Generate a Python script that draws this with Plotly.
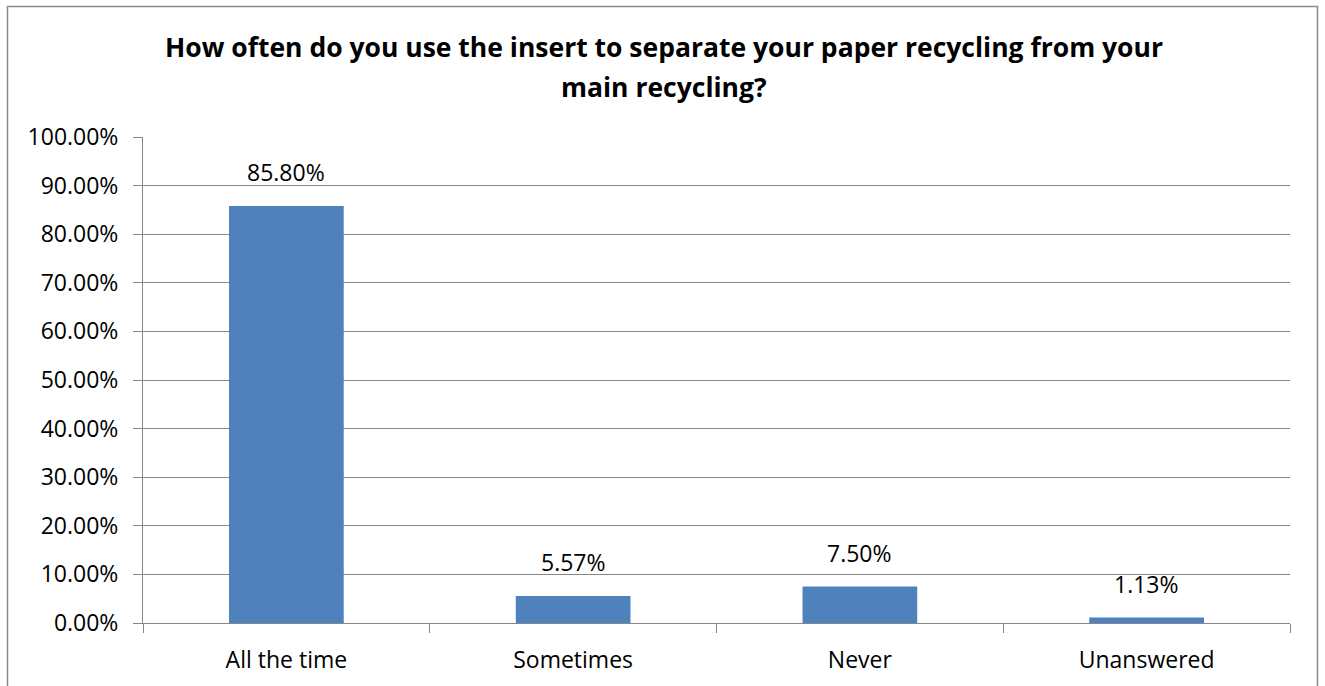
import plotly.graph_objects as go

categories = ["All the time", "Sometimes", "Never", "Unanswered"]
shares = [85.80, 5.57, 7.50, 1.13]
value_labels = ["85.80%", "5.57%", "7.50%", "1.13%"]
y_ticks = [0, 10, 20, 30, 40, 50, 60, 70, 80, 90, 100]
y_tick_text = [f"{v:.2f}%" for v in y_ticks]

title_lines = [
    "How often do you use the insert to separate your paper recycling from your",
    "main recycling?",
]

FONT = "Open Sans"
GRID = "#868686"
LABEL_SIZE = 23

W, H = 1325, 686
L, R, T, B = 143, 35, 137, 63
pw, ph = W - L - R, H - T - B


def px_x(px):
    return (px - L) / pw


def px_y(py):
    return (H - B - py) / ph


fig = go.Figure(
    go.Bar(
        x=categories,
        y=shares,
        width=0.4,
        marker=dict(color="#4F81BD", line=dict(width=0)),
        hoverinfo="skip",
    )
)

# value labels above each bar
for cat, val, lab in zip(categories, shares, value_labels):
    fig.add_annotation(
        x=cat, y=val, text=lab, showarrow=False,
        yanchor="bottom", yshift=16,
        font=dict(family=FONT, size=LABEL_SIZE, color="#000000"),
    )

# two-line bold chart title
for line, cy in zip(title_lines, [47, 87]):
    fig.add_annotation(
        xref="paper", yref="paper", x=px_x(664), y=px_y(cy),
        xanchor="center", yanchor="middle", showarrow=False,
        text=f"<b>{line}</b>",
        font=dict(family=FONT, size=26.5, color="#000000"),
    )

# outer chart border
fig.add_shape(
    type="rect", xref="paper", yref="paper",
    x0=px_x(7.5), x1=px_x(1317.5), y0=px_y(720), y1=px_y(6.5),
    line=dict(color="#8a8a8a", width=1.5), fillcolor="rgba(0,0,0,0)",
    layer="below",
)

fig.update_layout(
    width=W, height=H,
    margin=dict(l=L, r=R, t=T, b=B),
    paper_bgcolor="white", plot_bgcolor="white",
    showlegend=False,
    font=dict(family=FONT, size=LABEL_SIZE, color="#000000"),
)

fig.update_xaxes(
    type="category",
    showline=True, linecolor=GRID, linewidth=1,
    ticks="outside", tickson="boundaries", ticklen=9, tickcolor=GRID,
    showgrid=False, zeroline=False,
    tickfont=dict(family=FONT, size=LABEL_SIZE, color="#000000"),
    ticklabelstandoff=16,
)
fig.update_yaxes(
    range=[0, 100],
    tickvals=y_ticks, ticktext=y_tick_text,
    showline=True, linecolor=GRID, linewidth=1,
    ticks="outside", ticklen=9, tickcolor=GRID,
    showgrid=True, gridcolor=GRID, gridwidth=1,
    zeroline=False,
    tickfont=dict(family=FONT, size=LABEL_SIZE, color="#000000"),
    ticklabelstandoff=10,
)

fig.write_html("out.html")
